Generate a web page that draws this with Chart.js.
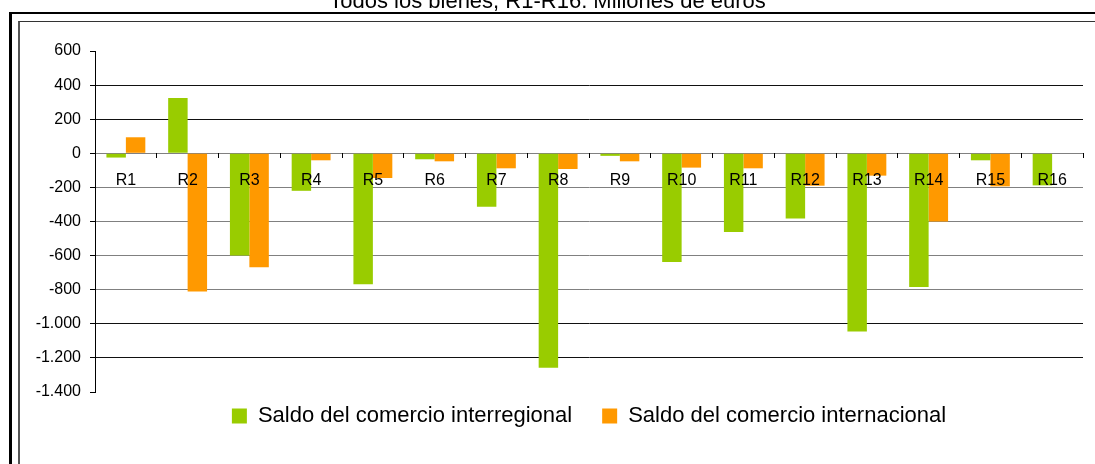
<!DOCTYPE html>
<html lang="es">
<head>
  <meta charset="UTF-8" />
  <title>Saldo del comercio R1-R16</title>
  <script src="https://cdn.jsdelivr.net/npm/chart.js"></script>
  <style>
    body {
      margin: 0;
      width: 1095px;
      height: 464px;
      overflow: hidden;
      background: #fff;
      position: relative;
      font-family: 'Liberation Sans', Arial, sans-serif;
    }
    #titulo {
      position: absolute;
      left: 0;
      top: -10px;
      width: 1095px;
      text-align: center;
      font-size: 22px;
      line-height: 22px;
      color: #000;
    }
    #marco {
      position: absolute;
      left: 9px;
      top: 12px;
      right: -10px;
      bottom: -10px;
      border-left: 3px solid #000;
      border-top: 2px solid #000;
    }
    #marco2 {
      position: absolute;
      left: 18px;
      top: 21px;
      right: -10px;
      bottom: -10px;
      border-left: 2px solid #555;
      border-top: 1px solid #333;
    }
    canvas { position: absolute; left: 0; top: 0; }
  </style>
</head>
<body>
  <canvas id="grafico" width="1095" height="464"></canvas>
  <div id="marco"></div>
  <div id="marco2"></div>
  <div id="titulo">Todos los bienes, R1-R16. Millones de euros</div>

  <script>
    // datos (millones de euros)
    const regiones = ['R1', 'R2', 'R3', 'R4', 'R5', 'R6', 'R7', 'R8',
                      'R9', 'R10', 'R11', 'R12', 'R13', 'R14', 'R15', 'R16'];
    const interregional = [-25, 325, -600, -220, -768, -35, -314, -1258,
                           -15, -638, -461, -382, -1045, -784, -41, -188];
    const internacional = [94, -810, -668, -41, -145, -47, -88, -92,
                           -47, -84, -88, -190, -131, -400, -194, 0];
    const series = ['Saldo del comercio interregional', 'Saldo del comercio internacional'];
    const yMin = -1400, yMax = 600, yPaso = 200;

    function fmt(v) {
      const s = Math.abs(v).toString().replace(/\B(?=(\d{3})+(?!\d))/g, '.');
      return (v < 0 ? '-' : '') + s;
    }

    // color de las lineas de division como en el original
    function colorRejilla(ctx) {
      const v = ctx.tick.value;
      if (v === yMax || v === yMin) return 'rgba(0,0,0,0)';
      if (v === 0 || (v < 0 && v >= -800)) return '#808080';
      return '#111';
    }

    // sube la leyenda un poco (el relleno de 30 tambien separa los items)
    const subirLeyenda = {
      id: 'subirLeyenda',
      afterLayout(chart) {
        chart.legend.top -= 17;
        chart.legend.bottom -= 17;
      }
    };

    Chart.defaults.font.family = "'Liberation Sans', Arial, sans-serif";
    Chart.defaults.color = '#000';

    new Chart(document.getElementById('grafico'), {
      type: 'bar',
      data: {
        labels: regiones,
        datasets: [
          { label: series[0], data: interregional, backgroundColor: '#99CC00' },
          { label: series[1], data: internacional, backgroundColor: '#FF9900' }
        ]
      },
      options: {
        responsive: false,
        animation: false,
        devicePixelRatio: 1,
        layout: { padding: { left: 20, right: 12, top: 51, bottom: 10 } },
        datasets: { bar: { categoryPercentage: 0.63, barPercentage: 1.0 } },
        plugins: {
          tooltip: { enabled: false },
          legend: {
            position: 'bottom',
            fullSize: false,
            labels: {
              boxWidth: 15,
              boxHeight: 15,
              padding: 30,
              font: { size: 22 },
              color: '#000'
            }
          }
        },
        scales: {
          x: {
            position: { y: 0 },
            grid: {
              drawOnChartArea: false,
              drawTicks: true,
              tickLength: 5,
              color: '#000',
              z: 1
            },
            border: { display: false },
            ticks: { font: { size: 16 }, padding: 13, maxRotation: 0, z: 1 }
          },
          y: {
            min: yMin,
            max: yMax,
            afterFit(s) { s.width = 75; },
            grid: { color: colorRejilla, tickColor: '#000', tickLength: 5 },
            border: { display: true, color: '#000' },
            ticks: {
              stepSize: yPaso,
              font: { size: 16 },
              padding: 9,
              callback: v => fmt(v)
            }
          }
        }
      },
      plugins: [subirLeyenda]
    });
  </script>
</body>
</html>
